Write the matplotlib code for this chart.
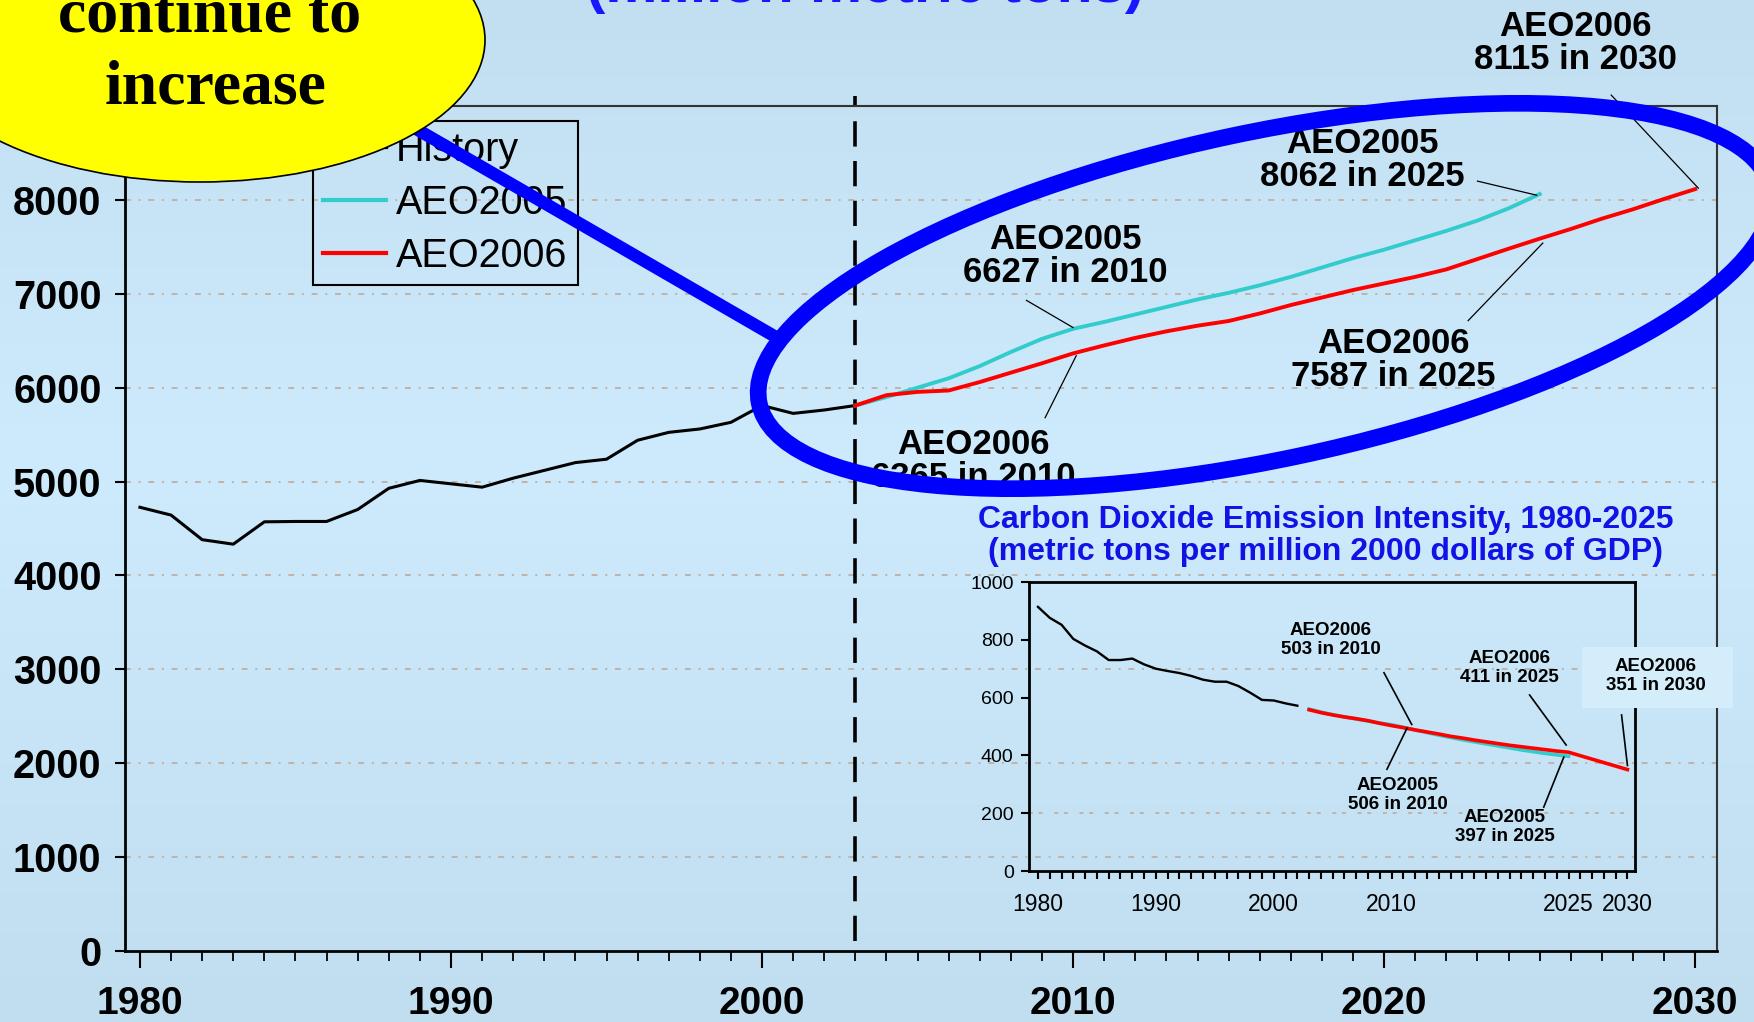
import numpy as np
import matplotlib
matplotlib.use("Agg")
import matplotlib.pyplot as plt
from matplotlib.patches import Ellipse, Rectangle
from matplotlib.lines import Line2D
from matplotlib.transforms import IdentityTransform
from matplotlib.ticker import MultipleLocator

# ---------------- data ----------------
# U.S. carbon dioxide emissions (million metric tons)
hist_years = list(range(1980, 2004))
hist_co2 = [4726, 4643, 4381, 4333, 4571, 4575, 4575, 4702, 4928, 5012, 4976, 4940,
            5036, 5119, 5202, 5238, 5440, 5524, 5560, 5631, 5810, 5726, 5762, 5810]

aeo05_years = list(range(2003, 2026))
aeo05_co2 = [5810, 5900, 6000, 6100, 6230, 6380, 6520, 6627, 6700, 6780, 6860, 6940,
             7010, 7090, 7180, 7280, 7380, 7470, 7570, 7670, 7780, 7910, 8062]

aeo06_years = list(range(2003, 2031))
aeo06_co2 = [5810, 5920, 5955, 5970, 6060, 6160, 6260, 6365, 6450, 6530, 6600, 6660,
             6710, 6790, 6880, 6960, 7040, 7110, 7180, 7260, 7370, 7480, 7587,
             7690, 7800, 7900, 8010, 8115]

# Carbon dioxide emission intensity (metric tons per million 2000 dollars of GDP)
int_hist_years = list(range(1980, 2003))
int_hist = [914, 876, 852, 803, 780, 760, 730, 730, 735, 715, 700, 692,
            685, 675, 662, 655, 655, 640, 617, 592, 590, 580, 572]

int_aeo05_years = list(range(2003, 2026))
int_aeo05 = [560, 550, 541, 533, 526, 519, 512, 506, 497, 488, 479, 470,
             462, 454, 447, 440, 433, 426, 419, 413, 407, 402, 397]

int_aeo06_years = list(range(2003, 2026)) + [2030]
int_aeo06 = [558, 548, 540, 533, 527, 520, 511, 503, 496, 488, 481, 474,
             466, 460, 453, 447, 441, 435, 430, 425, 420, 415, 411, 351]

series_names = ["History", "AEO2005", "AEO2006"]
main_xticks = [1980, 1990, 2000, 2010, 2020, 2030]
main_xtick_labels = ["1980", "1990", "2000", "2010", "2020", "2030"]
main_yticks = [0, 1000, 2000, 3000, 4000, 5000, 6000, 7000, 8000]
main_ytick_labels = ["0", "1000", "2000", "3000", "4000", "5000", "6000", "7000", "8000"]
inset_xticks = [1980, 1990, 2000, 2010, 2025, 2030]
inset_xtick_labels = ["1980", "1990", "2000", "2010", "2025", "2030"]
inset_yticks = [0, 200, 400, 600, 800, 1000]
inset_ytick_labels = ["0", "200", "400", "600", "800", "1000"]

# ---------------- figure ----------------
W, H, DPI = 1754, 1022, 100
plt.rcParams["font.family"] = ["Liberation Sans", "DejaVu Sans"]
fig = plt.figure(figsize=(W / DPI, H / DPI), dpi=DPI)


def fx(px):
    return px / W


def fy(py):
    return 1 - py / H


# soft vertical background gradient
bg = fig.add_axes([0, 0, 1, 1], zorder=-5)
rows = np.linspace(0, 1, 300)
top_c = np.array([193, 223, 240]) / 255
mid_c = np.array([205, 235, 252]) / 255
bot_c = np.array([192, 222, 239]) / 255
grad = np.zeros((300, 1, 3))
for k in range(3):
    grad[:, 0, k] = np.interp(rows, [0, 0.45, 1], [top_c[k], mid_c[k], bot_c[k]])
bg.imshow(grad, aspect="auto", extent=[0, 1, 0, 1])
bg.set_axis_off()

CYAN = "#33cccc"
RED = "#ff0000"
BLUE = "#0000ff"
GRID = "#bfb3a8"

# ---------------- main chart ----------------
ax = fig.add_axes([fx(125), fy(951), fx(1717) - fx(125), fy(106) - fy(951)],
                  facecolor="none", zorder=1)
ax.set_xlim(1979.52, 2030.7)
ax.set_ylim(0, 9000)

for v in range(1000, 9001, 1000):
    ax.axhline(v, color=GRID, lw=1.4, ls=(0, (3, 4, 1, 4)), zorder=0.5)

h_hist, = ax.plot(hist_years, hist_co2, color="black", lw=2.2, zorder=3)
h05, = ax.plot(aeo05_years, aeo05_co2, color=CYAN, lw=2.8, zorder=3)
h06, = ax.plot(aeo06_years, aeo06_co2, color=RED, lw=2.8, zorder=3.1)

ax.axvline(2003, ymin=0.012, ymax=1.012, color="black", lw=2.6,
           ls=(0, (7, 4)), clip_on=False, zorder=2)

for side in ["left", "bottom"]:
    ax.spines[side].set_linewidth(2.0)
    ax.spines[side].set_color("black")
for side in ["top", "right"]:
    ax.spines[side].set_linewidth(1.5)
    ax.spines[side].set_color("#333333")

ax.set_yticks(main_yticks)
ax.set_yticklabels(main_ytick_labels)
ax.set_xticks(main_xticks)
ax.set_xticklabels(main_xtick_labels)
ax.xaxis.set_minor_locator(MultipleLocator(1))
ax.tick_params(axis="y", length=7, width=1.5, pad=10, labelsize=28.5)
ax.tick_params(axis="x", which="major", length=12, width=1.5, pad=13, labelsize=28)
ax.tick_params(axis="x", which="minor", length=7, width=1.3)
for lab in ax.get_xticklabels() + ax.get_yticklabels():
    lab.set_fontweight("bold")

leg = ax.legend([h_hist, h05, h06], series_names, loc="upper left",
                bbox_to_anchor=(fx(313), fy(121)), bbox_transform=fig.transFigure,
                borderaxespad=0, fontsize=28.5, handlelength=1.6, handletextpad=0.25,
                labelspacing=0.38, borderpad=0.25, fancybox=False, framealpha=1)
leg.get_frame().set_facecolor("none")
leg.get_frame().set_edgecolor("black")
leg.get_frame().set_linewidth(1.5)
for ln in leg.get_lines():
    ln.set_linewidth(3)

main_notes = [
    ("AEO2006\n8115 in 2030", (2026.14, 9670), (2027.3, 9116), (2030.1, 8125)),
    ("AEO2005\n8062 in 2025", (2019.3, 8424), (2023.0, 8200), (2024.9, 8050)),
    ("AEO2005\n6627 in 2010", (2009.74, 7400), (2008.5, 6930), (2010.0, 6640)),
    ("AEO2006\n6365 in 2010", (2006.8, 5220), (2009.1, 5680), (2010.1, 6340)),
    ("AEO2006\n7587 in 2025", (2020.3, 6294), (2022.7, 6714), (2025.1, 7540)),
]
for text, pos, p0, p1 in main_notes:
    ax.text(pos[0], pos[1], text, ha="center", va="center", fontsize=25,
            fontweight="bold", linespacing=1.0, clip_on=False, zorder=4)
    ax.plot([p0[0], p1[0]], [p0[1], p1[1]], color="black", lw=0.9,
            clip_on=False, zorder=4)

# ---------------- inset: emission intensity ----------------
ins = fig.add_axes([fx(1029), fy(871), fx(1635) - fx(1029), fy(582) - fy(871)],
                   facecolor="none", zorder=2)
ins.set_xlim(1979.24, 2030.64)
ins.set_ylim(0, 1000)
ins.axhline(200, color=GRID, lw=1.4, ls=(0, (2, 3, 2, 6)), zorder=0.5)
ins.plot(int_hist_years, int_hist, color="black", lw=1.7, zorder=3)
ins.plot(int_aeo05_years, int_aeo05, color=CYAN, lw=2.6, zorder=3)
ins.plot(int_aeo06_years, int_aeo06, color=RED, lw=2.6, zorder=3.1)
for s in ins.spines.values():
    s.set_linewidth(2.0)
    s.set_color("black")
ins.set_xticks(inset_xticks)
ins.set_xticklabels(inset_xtick_labels)
ins.xaxis.set_minor_locator(MultipleLocator(1))
ins.set_yticks(inset_yticks)
ins.set_yticklabels(inset_ytick_labels)
ins.tick_params(axis="x", which="major", length=6, width=1.5, pad=10, labelsize=16.5)
ins.tick_params(axis="x", which="minor", length=6, width=1.5)
ins.tick_params(axis="y", length=6, width=1.5, pad=5, labelsize=14)

inset_notes = [
    ("AEO2006\n503 in 2010", (2004.85, 800), (2009.35, 686), (2011.7, 507)),
    ("AEO2005\n506 in 2010", (2010.5, 262), (2009.6, 352), (2011.3, 494)),
    ("AEO2006\n411 in 2025", (2020.0, 702), (2021.7, 609), (2024.8, 436)),
    ("AEO2005\n397 in 2025", (2019.6, 152), (2022.9, 221), (2024.6, 394)),
]
for text, pos, p0, p1 in inset_notes:
    ins.text(pos[0], pos[1], text, ha="center", va="center", fontsize=13.5,
             fontweight="bold", linespacing=1.15, clip_on=False, zorder=4)
    ins.plot([p0[0], p1[0]], [p0[1], p1[1]], color="black", lw=1.2,
             clip_on=False, zorder=4)
ins.plot([2029.5, 2030.0], [540, 365], color="black", lw=1.2, clip_on=False, zorder=4)

fig.add_artist(Rectangle((fx(1582), fy(708)), fx(1733) - fx(1582), fy(647) - fy(708),
                         transform=fig.transFigure, fc="#d4edfb", ec="none", zorder=3))
fig.text(2032.4, 675, "AEO2006\n351 in 2030", transform=ins.transData, ha="center",
         va="center", fontsize=13.5, fontweight="bold", linespacing=1.15, zorder=4)

fig.text(fx(1326), fy(536), "Carbon Dioxide Emission Intensity, 1980-2025\n"
         "(metric tons per million 2000 dollars of GDP)", ha="center", va="center",
         fontsize=23, fontweight="bold", color="#1212e6", linespacing=1.08, zorder=4)

# ---------------- title and call-out shapes ----------------
fig.text(fx(865), fy(2), "(million metric tons)", ha="center", va="baseline",
         fontsize=42, fontweight="bold", color="#1818ff", zorder=4)

fig.add_artist(Ellipse((1265, H - 296), 1034, 327, angle=12, transform=IdentityTransform(),
                       fill=False, ec=BLUE, lw=12, zorder=5))
fig.add_artist(Line2D([380, 781], [H - 108, H - 340], transform=IdentityTransform(),
                      color=BLUE, lw=9, solid_capstyle="butt", zorder=5))
fig.add_artist(Ellipse((200, H - 40), 570, 284, transform=IdentityTransform(),
                       fc="#ffff00", ec="black", lw=1.2, zorder=6))
fig.text(fx(210), fy(31), "continue to", ha="center", va="baseline",
         family=["Liberation Serif", "DejaVu Serif"], fontweight="bold",
         fontsize=46, zorder=7)
fig.text(fx(216), fy(103), "increase", ha="center", va="baseline",
         family=["Liberation Serif", "DejaVu Serif"], fontweight="bold",
         fontsize=46, zorder=7)

fig.savefig("out.png", dpi=DPI)
